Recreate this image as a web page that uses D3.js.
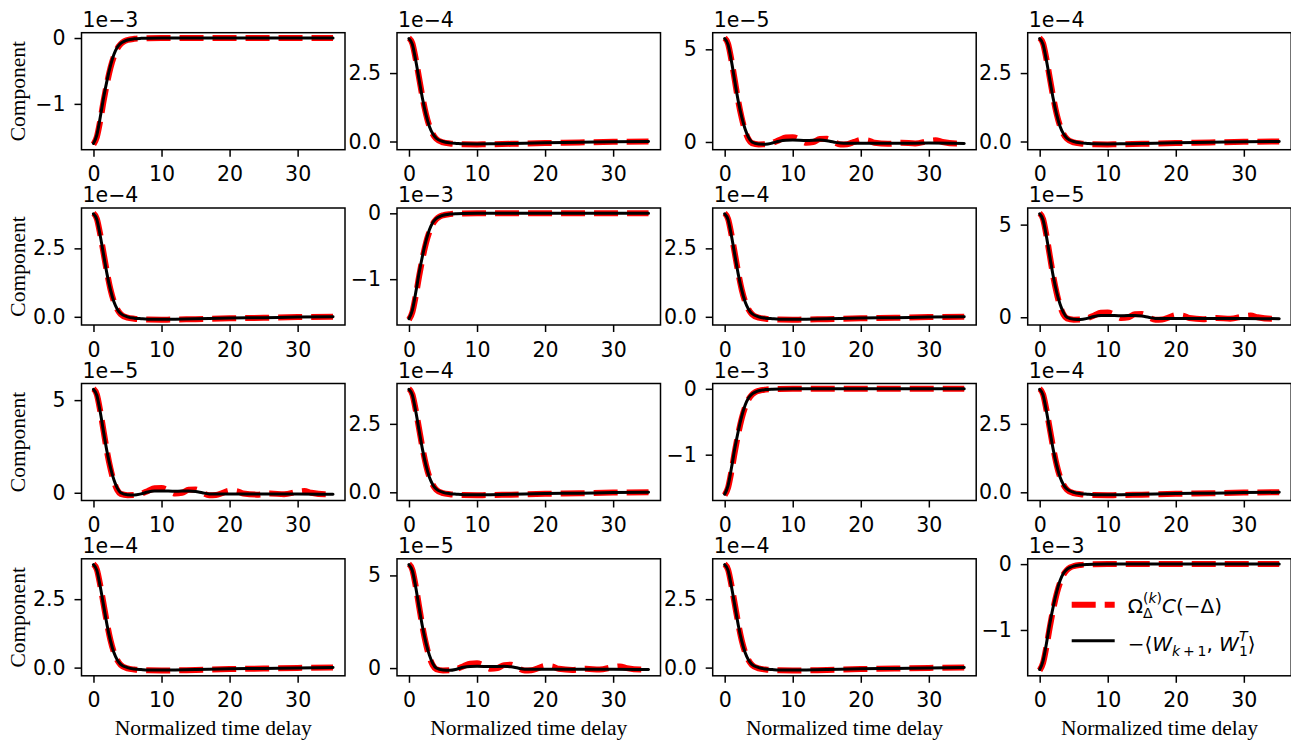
<!DOCTYPE html>
<html>
<head>
<meta charset="utf-8">
<script src="https://cdn.jsdelivr.net/npm/d3@7"></script>
<style>
  body { margin: 0; background: #fff; }
</style>
</head>
<body>
<svg id="chart" width="1291" height="742"></svg>
<script>
// which curve shape sits in each panel (row by row)
var panelKinds = [
  ['A', 'B', 'C', 'B'],
  ['B', 'A', 'B', 'C'],
  ['C', 'B', 'A', 'B'],
  ['B', 'C', 'B', 'A']
];
var xTicks = [0, 10, 20, 30];

// kind A, values in units of 1e-3
var tA     = [0, 0.5, 1, 1.5, 2, 2.5, 3, 3.5, 4, 4.5, 5, 6, 7, 8, 10, 15, 20, 25, 30, 35.2];
var blackA = [-1.60, -1.47, -1.20, -0.90, -0.64, -0.42, -0.25, -0.14, -0.08, -0.05, -0.03, -0.012, -0.005, -0.002, 0, 0, 0, 0, 0, 0];
var redA   = [-1.615, -1.50, -1.25, -0.95, -0.68, -0.45, -0.28, -0.16, -0.09, -0.05, -0.03, -0.012, -0.005, -0.002, 0, 0, 0, 0, 0, 0];

// kind B, values in units of 1e-4
var tB     = [0, 0.5, 1, 1.5, 2, 2.5, 3, 3.5, 4, 5, 6, 7, 8, 10, 12, 15, 20, 25, 30, 35.2];
var blackB = [3.76, 3.55, 2.95, 2.25, 1.55, 0.98, 0.55, 0.28, 0.12, 0.0, -0.05, -0.07, -0.085, -0.09, -0.085, -0.07, -0.045, -0.03, -0.01, 0.0];
var redB   = [3.78, 3.58, 3.0, 2.3, 1.6, 1.0, 0.56, 0.27, 0.10, -0.03, -0.07, -0.09, -0.10, -0.105, -0.10, -0.085, -0.055, -0.035, -0.01, 0.0];

// kind C, values in units of 1e-5
var tC     = [0, 0.5, 1, 1.5, 2, 2.5, 3, 3.5, 4, 5, 6, 7, 8, 9, 10, 12, 14, 15, 16, 17, 18, 20, 25, 30, 35.2];
var blackC = [5.58, 5.25, 4.35, 3.25, 2.2, 1.35, 0.7, 0.25, 0.0, -0.11, -0.12, -0.06, 0.04, 0.09, 0.1, 0.08, 0.1, 0.07, 0.0, -0.06, -0.07, -0.07, -0.07, -0.06, -0.08];
var tCr    = [0, 0.5, 1, 1.5, 2, 2.5, 3, 3.5, 4, 5, 6, 7, 8, 9, 10, 11, 12, 13, 14, 15, 16, 17, 18, 19, 20, 21, 22, 24, 26, 28, 30, 31, 32, 34, 35.2];
var redC   = [5.61, 5.3, 4.4, 3.3, 2.2, 1.3, 0.6, 0.15, -0.06, -0.13, -0.12, -0.05, 0.1, 0.24, 0.26, 0.14, -0.04, 0.0, 0.16, 0.18, 0.0, -0.13, -0.12, 0.0, 0.11, 0.09, -0.04, -0.1, -0.04, -0.08, 0.05, 0.09, 0.0, -0.08, -0.08];

var kinds = {
  A: { t: tA, black: blackA, tRed: tA,  red: redA, offset: '1e\u22123', ticks: [-1, 0],
       fmt: function(d) { return d === 0 ? '0' : '\u2212' + Math.abs(d); } },
  B: { t: tB, black: blackB, tRed: tB,  red: redB, offset: '1e\u22124', ticks: [0, 2.5],
       fmt: function(d) { return d3.format('.1f')(d); } },
  C: { t: tC, black: blackC, tRed: tCr, red: redC, offset: '1e\u22125', ticks: [0, 5],
       fmt: function(d) { return d3.format('d')(d); } }
};

var SANS = '"DejaVu Sans", sans-serif';
var SERIF = '"Liberation Serif", "Times New Roman", serif';
var lefts = [81.5, 397, 712.7, 1027.7];
var tops = [32.7, 208, 383.5, 558.8];
var panelW = 263.5, panelH = 117;

var svg = d3.select('#chart');
svg.append('rect').attr('width', 1291).attr('height', 742).attr('fill', '#fff');

// matplotlib style autoscale: 5% margin each side
function padded(ext) {
  var m = (ext[1] - ext[0]) * 0.05;
  return [ext[0] - m, ext[1] + m];
}

var xExt = padded([0, d3.max([tA, tB, tC, tCr], function(a) { return d3.max(a); })]);

function sansText(sel, size) {
  return sel.style('font-family', SANS).style('font-size', size + 'px').attr('fill', '#000');
}

// draws mathtext-like pieces, arrays inside items are stacked sub/superscripts
function drawMath(g, x, y, items) {
  var cx = x;
  items.forEach(function(item) {
    var lanes = Array.isArray(item) ? item : [[item]];
    var widest = 0;
    lanes.forEach(function(lane) {
      var lx = cx;
      lane.forEach(function(p) {
        var t = sansText(g.append('text'), p.fs || 20)
          .attr('x', lx).attr('y', y + (p.dy || 0))
          .style('font-style', p.it ? 'italic' : 'normal')
          .text(p.t);
        lx += t.node().getComputedTextLength();
      });
      widest = Math.max(widest, lx - cx);
    });
    cx += widest;
  });
}

panelKinds.forEach(function(row, r) {
  row.forEach(function(kindName, c) {
    var k = kinds[kindName];
    var g = svg.append('g').attr('transform', 'translate(' + lefts[c] + ',' + tops[r] + ')');

    var x = d3.scaleLinear().domain(xExt).range([0, panelW]);
    var yExt = d3.extent(k.black.concat(k.red));
    var y = d3.scaleLinear().domain(padded(yExt)).range([panelH, 0]);

    var redPts = k.tRed.map(function(t, i) { return [t, k.red[i]]; });
    var blackPts = k.t.map(function(t, i) { return [t, k.black[i]]; });
    var line = d3.line()
      .x(function(d) { return x(d[0]); })
      .y(function(d) { return y(d[1]); })
      .curve(d3.curveMonotoneX);

    g.append('path').attr('d', line(redPts))
      .attr('fill', 'none').attr('stroke', '#ff0000').attr('stroke-width', 6)
      .attr('stroke-dasharray', '24,9');
    g.append('path').attr('d', line(blackPts))
      .attr('fill', 'none').attr('stroke', '#000').attr('stroke-width', 3)
      .attr('stroke-linecap', 'round');

    // axes
    var xa = g.append('g').attr('transform', 'translate(0,' + panelH + ')')
      .call(d3.axisBottom(x).tickValues(xTicks).tickSize(7).tickPadding(10).tickFormat(d3.format('d')));
    var ya = g.append('g')
      .call(d3.axisLeft(y).tickValues(k.ticks).tickSize(7).tickPadding(9).tickFormat(k.fmt));
    [xa, ya].forEach(function(a) {
      a.select('.domain').remove();
      a.attr('font-family', null).attr('font-size', null);
      a.selectAll('.tick line').attr('stroke', '#000').attr('stroke-width', 1.5);
      sansText(a.selectAll('.tick text'), 20.5);
    });

    g.append('rect').attr('width', panelW).attr('height', panelH)
      .attr('fill', 'none').attr('stroke', '#000').attr('stroke-width', 1.5);

    sansText(g.append('text'), 20.5).attr('x', 1).attr('y', -6).text(k.offset);

    if (c === 0) {
      g.append('text')
        .attr('transform', 'translate(' + (25 - lefts[0]) + ',' + (panelH / 2) + ') rotate(-90)')
        .attr('text-anchor', 'middle')
        .style('font-family', SERIF).style('font-size', '21.5px')
        .text('Component');
    }
    if (r === 3) {
      g.append('text')
        .attr('x', panelW / 2).attr('y', panelH + 59)
        .attr('text-anchor', 'middle')
        .style('font-family', SERIF).style('font-size', '21.5px')
        .text('Normalized time delay');
    }

    // legend sits in the last panel
    if (r === 3 && c === 3) {
      var lg = g.append('g');
      lg.append('line').attr('x1', 44).attr('x2', 87).attr('y1', 46).attr('y2', 46)
        .attr('stroke', '#ff0000').attr('stroke-width', 6).attr('stroke-dasharray', '24,9');
      lg.append('line').attr('x1', 44).attr('x2', 87).attr('y1', 82).attr('y2', 82)
        .attr('stroke', '#000').attr('stroke-width', 3);
      drawMath(lg, 100, 54, [
        { t: '\u03a9' },
        [[{ t: '(', fs: 14, dy: -10 }, { t: 'k', it: 1, fs: 14, dy: -10 }, { t: ')', fs: 14, dy: -10 }],
         [{ t: '\u0394', fs: 14, dy: 5 }]],
        { t: 'C', it: 1 },
        { t: '(\u2212\u0394)' }
      ]);
      drawMath(lg, 100, 92, [
        { t: '\u2212\u27e8' },
        { t: 'W', it: 1 },
        [[{ t: 'k', it: 1, fs: 14, dy: 5 }, { t: '\u2009+\u20091', fs: 14, dy: 5 }]],
        { t: ',\u00a0' },
        { t: 'W', it: 1 },
        [[{ t: 'T', it: 1, fs: 14, dy: -10 }], [{ t: '1', fs: 14, dy: 5 }]],
        { t: '\u27e9' }
      ]);
    }
  });
});
</script>
</body>
</html>
